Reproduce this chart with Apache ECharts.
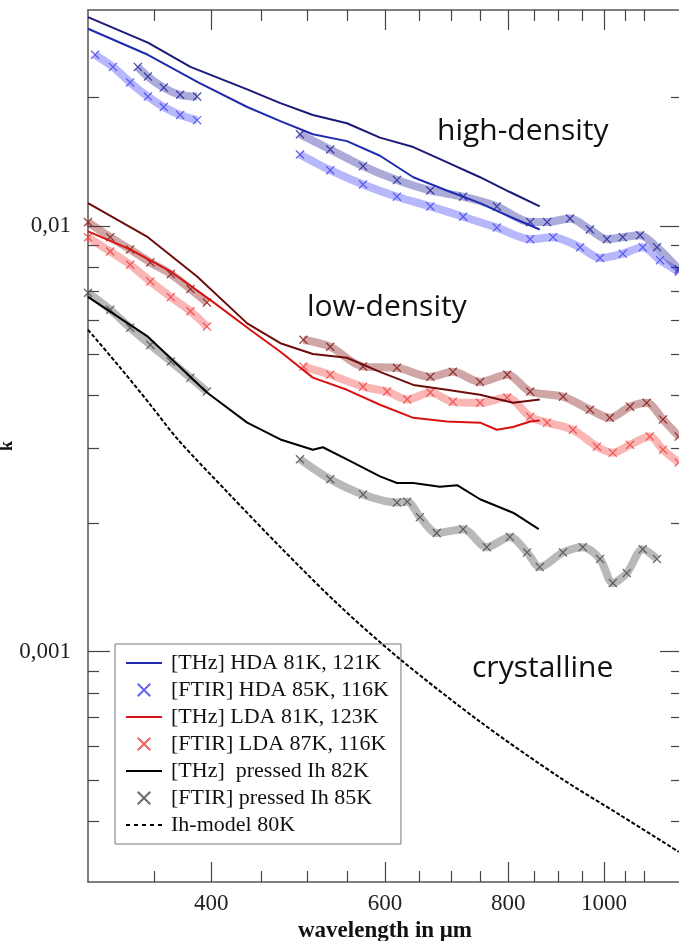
<!DOCTYPE html>
<html>
<head>
<meta charset="utf-8">
<script src="https://cdn.jsdelivr.net/npm/echarts@6/dist/echarts.min.js"></script>
<style>
  html, body { margin: 0; padding: 0; background: #fff; }
  #chart { width: 679px; height: 941px; }
</style>
</head>
<body>
<div id="chart"></div>
<script>
// [wavelength in µm, k]
const hdaThzUpper = [[300,0.0309],[345,0.0269],[381,0.0236],[435,0.0209],[470,0.0194],[507,0.0182],[549,0.0174],[593,0.0161],[641,0.0153],[693,0.0141],[749,0.0130],[803,0.0120],[861,0.0111]];
const hdaThzLower = [[300,0.0290],[345,0.0252],[388,0.0217],[435,0.0190],[470,0.0176],[507,0.0164],[549,0.0158],[593,0.0146],[641,0.0130],[693,0.0121],[749,0.0113],[803,0.0105],[861,0.0098]];
const hdaFtirShortUpper = [[337,0.0236],[345,0.0224],[358,0.0211],[372,0.0203],[387,0.0201]];
const hdaFtirShortLower = [[305,0.0252],[318,0.0236],[331,0.0217],[345,0.0201],[358,0.0190],[372,0.0182],[387,0.0177]];
const hdaFtirLongUpper = [[492,0.0164],[528,0.0151],[570,0.0138],[617,0.0128],[667,0.0121],[720,0.0117],[779,0.0111],[842,0.0102],[876,0.0102],[924,0.0104],[968,0.0098],[1007,0.0093],[1045,0.0094],[1088,0.0095],[1132,0.0089],[1191,0.0079]];
const hdaFtirLongLower = [[492,0.0147],[528,0.0135],[570,0.0125],[617,0.0117],[667,0.0111],[720,0.0105],[779,0.0099],[842,0.0093],[888,0.0094],[946,0.0089],[991,0.0084],[1045,0.0086],[1095,0.0089],[1140,0.0083],[1191,0.0078]];

const ldaThzUpper = [[300,0.0113],[345,0.0094],[387,0.0076],[435,0.0059],[470,0.0053],[507,0.0050],[549,0.0049],[593,0.00454],[641,0.00423],[693,0.00412],[749,0.00401],[809,0.00384],[861,0.00391]];
const ldaThzLower = [[300,0.0097],[331,0.0088],[364,0.0078],[399,0.0067],[438,0.0057],[470,0.00506],[507,0.0044],[549,0.00412],[593,0.0038],[641,0.00354],[693,0.00347],[749,0.00345],[779,0.00332],[809,0.00337],[842,0.00347],[861,0.00349]];
const ldaFtirShortUpper = [[300,0.0102],[316,0.0094],[331,0.0088],[347,0.0082],[364,0.0077],[381,0.0071],[396,0.0066]];
const ldaFtirShortLower = [[300,0.0094],[316,0.0087],[331,0.0081],[347,0.0074],[364,0.0068],[381,0.0063],[396,0.0058]];
const ldaFtirLongUpper = [[496,0.0054],[528,0.0052],[570,0.00467],[617,0.00464],[667,0.00442],[703,0.00454],[749,0.0043],[798,0.00447],[842,0.00408],[909,0.00397],[968,0.0037],[1014,0.00354],[1063,0.00376],[1105,0.00384],[1148,0.00351],[1191,0.0032]];
const ldaFtirLongLower = [[496,0.00467],[528,0.00447],[570,0.00419],[603,0.00408],[632,0.00391],[667,0.00406],[703,0.00386],[749,0.00384],[798,0.00395],[842,0.00356],[876,0.00345],[930,0.00332],[984,0.00303],[1021,0.00293],[1063,0.00306],[1113,0.0032],[1148,0.00298],[1191,0.00278]];

const ihThz = [[300,0.00681],[345,0.00549],[396,0.00406],[435,0.00345],[470,0.00315],[507,0.00298],[519,0.00302],[549,0.00283],[593,0.00258],[617,0.00249],[641,0.00249],[682,0.00244],[710,0.00246],[749,0.00228],[809,0.00212],[859,0.00194]];
const ihFtirShort = [[300,0.00696],[316,0.00635],[331,0.00576],[347,0.00525],[364,0.0048],[381,0.0044],[396,0.00408]];
const ihFtirLong = [[492,0.00283],[528,0.00254],[570,0.00234],[617,0.00224],[632,0.00225],[651,0.00207],[677,0.0019],[720,0.00194],[761,0.00176],[803,0.00186],[836,0.00171],[861,0.00158],[909,0.00171],[952,0.00176],[991,0.00165],[1021,0.00145],[1055,0.00153],[1095,0.00174],[1132,0.00165]];
const ihModel = [[300,0.0057],[324,0.00462],[347,0.0038],[370,0.00315],[416,0.00236],[470,0.00176],[540,0.00128],[622,0.000959],[749,0.000685],[903,0.000506],[1038,0.000414],[1191,0.000339]];

// ticks
const xMajorTicks = [400, 600, 800, 1000];
const xMinorTicks = [350, 450, 500, 550, 650, 700, 750, 850, 900, 950, 1050, 1100];
const yMajorTicks = [0.001, 0.01];
const yMinorTicks = [0.0004, 0.0005, 0.0006, 0.0007, 0.0008, 0.0009,
  0.002, 0.003, 0.004, 0.005, 0.006, 0.007, 0.008, 0.009, 0.02];

const names = [
  "[THz] HDA 81K, 121K",
  "[FTIR] HDA 85K, 116K",
  "[THz] LDA 81K, 123K",
  "[FTIR] LDA 87K, 116K",
  "[THz]  pressed Ih 82K",
  "[FTIR] pressed Ih 85K",
  "Ih-model 80K"
];

const xMark = "path://M0,1L1,0L5,4L9,0L10,1L6,5L10,9L9,10L5,6L1,10L0,9L4,5Z";
const lineIcon = "path://M0,0H36V2H0Z";
const dashIcon = "path://M0,0H4V2H0ZM8,0H12V2H8ZM16,0H20V2H16ZM24,0H28V2H24ZM32,0H36V2H32Z";

const serif = "'Liberation Serif', 'DejaVu Serif', serif";

const thz = (name, data, color) => ({
  name, type: "line", data, symbol: "none", z: 4,
  itemStyle: { color }, lineStyle: { color, width: 2 }
});
const ftir = (name, data, color) => ({
  name, type: "line", data, symbol: xMark, symbolSize: 9, smooth: 0.3, z: 3,
  itemStyle: { color, opacity: 0.85 },
  lineStyle: { color, width: 8, opacity: 0.4 }
});

const xBase = { type: "log", logBase: 10, min: 300, max: 1200, splitLine: { show: false } };
const yBase = { type: "log", logBase: 10, min: 0.000288, max: 0.0321, splitLine: { show: false } };
const tickLine = { color: "#444", width: 1.2 };

const chart = echarts.init(document.getElementById("chart"));
chart.setOption({
  animation: false,
  grid: { left: 88, right: -3, top: 10, bottom: 59, outerBoundsMode: "none", containLabel: false },
  legend: {
    orient: "vertical", left: 115, top: 644,
    padding: [8, 12, 8, 11],
    itemWidth: 36, itemHeight: 14, itemGap: 5,
    backgroundColor: "#fff", borderColor: "#777", borderWidth: 1, borderRadius: 0,
    itemStyle: { borderWidth: 0 },
    textStyle: { fontFamily: serif, fontSize: 22, color: "#111", padding: [0, 0, 0, 4] },
    data: [
      { name: names[0], icon: lineIcon },
      { name: names[1], icon: xMark },
      { name: names[2], icon: lineIcon },
      { name: names[3], icon: xMark },
      { name: names[4], icon: lineIcon },
      { name: names[5], icon: xMark },
      { name: names[6], icon: dashIcon }
    ]
  },
  xAxis: [
    Object.assign({}, xBase, {
      position: "bottom",
      axisLine: { lineStyle: { color: "#555", width: 1.5 } },
      axisTick: { inside: true, length: 20, customValues: xMajorTicks, lineStyle: tickLine },
      axisLabel: {
        customValues: xMajorTicks, margin: 10, fontFamily: serif, fontSize: 23, color: "#222",
        formatter: v => String(Math.round(v))
      },
      name: "wavelength in μm", nameLocation: "middle", nameGap: 36,
      nameTextStyle: { fontFamily: serif, fontSize: 23, fontWeight: "bold", color: "#111" }
    }),
    Object.assign({}, xBase, {
      position: "bottom", axisLine: { show: false }, axisLabel: { show: false },
      axisTick: { inside: true, length: 11, customValues: xMinorTicks, lineStyle: tickLine }
    }),
    Object.assign({}, xBase, {
      position: "top",
      axisLine: { lineStyle: { color: "#555", width: 1.5 } }, axisLabel: { show: false },
      axisTick: { inside: true, length: 20, customValues: xMajorTicks, lineStyle: tickLine }
    }),
    Object.assign({}, xBase, {
      position: "top", axisLine: { show: false }, axisLabel: { show: false },
      axisTick: { inside: true, length: 11, customValues: xMinorTicks, lineStyle: tickLine }
    })
  ],
  yAxis: [
    Object.assign({}, yBase, {
      position: "left",
      axisLine: { lineStyle: { color: "#555", width: 1.5 } },
      axisTick: { inside: true, length: 22, customValues: yMajorTicks, lineStyle: tickLine },
      axisLabel: {
        customValues: yMajorTicks, margin: 17, fontFamily: serif, fontSize: 23, color: "#222",
        formatter: v => String(+(+v).toPrecision(3)).replace(".", ",")
      },
      name: "k", nameLocation: "middle", nameGap: 72, nameRotate: 90, nameMoveOverlap: false,
      nameTextStyle: { fontFamily: serif, fontSize: 18, fontWeight: "bold", color: "#111" }
    }),
    Object.assign({}, yBase, {
      position: "left", axisLine: { show: false }, axisLabel: { show: false },
      axisTick: { inside: true, length: 11, customValues: yMinorTicks, lineStyle: tickLine }
    }),
    Object.assign({}, yBase, {
      position: "right",
      axisLine: { lineStyle: { color: "#555", width: 1.5 } }, axisLabel: { show: false },
      axisTick: { inside: true, length: 22, customValues: yMajorTicks, lineStyle: tickLine }
    }),
    Object.assign({}, yBase, {
      position: "right", axisLine: { show: false }, axisLabel: { show: false },
      axisTick: { inside: true, length: 11, customValues: yMinorTicks, lineStyle: tickLine }
    })
  ],
  graphic: [
    { type: "text", x: 437, y: 131, style: { text: "high-density", font: "30px 'Open Sans'", fill: "#111", verticalAlign: "middle" } },
    { type: "text", x: 307, y: 307, style: { text: "low-density", font: "30px 'Open Sans'", fill: "#111", verticalAlign: "middle" } },
    { type: "text", x: 472, y: 668, style: { text: "crystalline", font: "30px 'Open Sans'", fill: "#111", verticalAlign: "middle" } }
  ],
  series: [
    // first series of each name sets the legend colour
    thz(names[0], hdaThzLower, "#1f2bb0"),
    thz(names[0], hdaThzUpper, "#1a1a78"),
    ftir(names[1], hdaFtirShortLower, "#4a4af5"),
    ftir(names[1], hdaFtirLongLower, "#4a4af5"),
    ftir(names[1], hdaFtirShortUpper, "#2c2ca0"),
    ftir(names[1], hdaFtirLongUpper, "#2c2ca0"),
    thz(names[2], ldaThzLower, "#d81212"),
    thz(names[2], ldaThzUpper, "#6e0c0c"),
    ftir(names[3], ldaFtirShortLower, "#f24545"),
    ftir(names[3], ldaFtirLongLower, "#f24545"),
    ftir(names[3], ldaFtirShortUpper, "#8a1d1d"),
    ftir(names[3], ldaFtirLongUpper, "#8a1d1d"),
    thz(names[4], ihThz, "#000"),
    ftir(names[5], ihFtirShort, "#505050"),
    ftir(names[5], ihFtirLong, "#505050"),
    {
      name: names[6], type: "line", data: ihModel, symbol: "none", smooth: 0.3, z: 4,
      itemStyle: { color: "#000" }, lineStyle: { color: "#000", width: 2, type: [4, 2] }
    }
  ]
});
</script>
</body>
</html>
